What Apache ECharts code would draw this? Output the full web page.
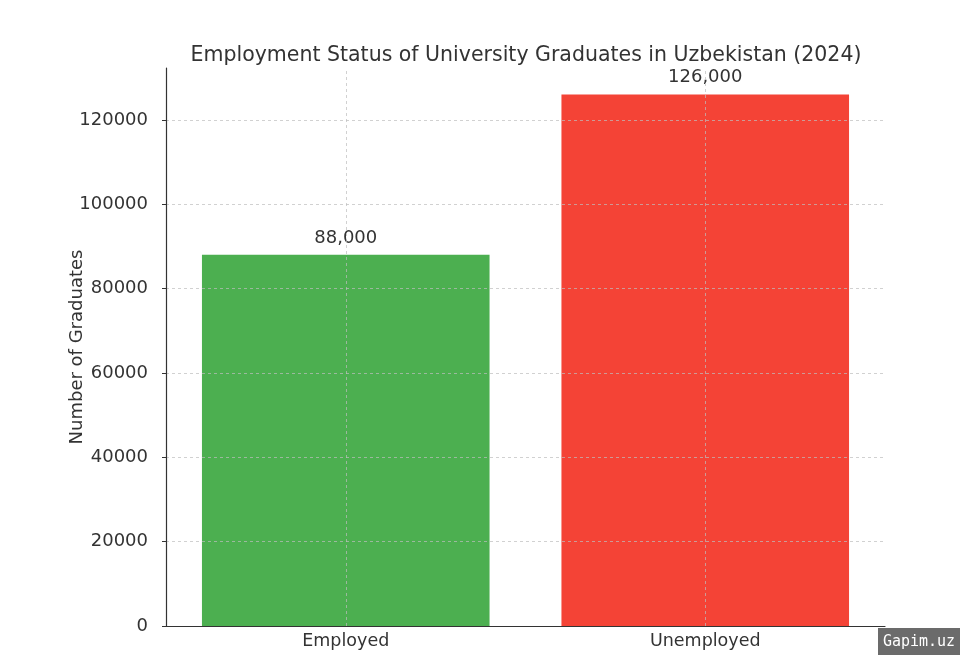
<!DOCTYPE html>
<html>
<head>
<meta charset="utf-8">
<script src="https://cdn.jsdelivr.net/npm/echarts@6/dist/echarts.min.js"></script>
<style>
  html, body { margin: 0; padding: 0; background: #fff; }
  #chart { width: 965px; height: 658px; }
</style>
</head>
<body>
<div id="chart"></div>
<script>
const categories = ['Employed', 'Unemployed']
const graduates = [88000, 126000]
const barColors = ['#4caf50', '#f44336']
const yTicks = [0, 20000, 40000, 60000, 80000, 100000, 120000]
const yMax = 132300

const font = 'DejaVu Sans'
const textColor = '#333'

const chart = echarts.init(document.getElementById('chart'))

chart.setOption({
  animation: false,
  title: {
    text: 'Employment Status of University Graduates in Uzbekistan (2024)',
    left: 521,
    textAlign: 'center',
    top: 40,
    textStyle: { fontFamily: font, fontSize: 20.5, fontWeight: 'normal', color: textColor }
  },
  grid: { left: 166, right: 80, top: 68, bottom: 32 },
  xAxis: {
    type: 'category',
    data: categories,
    z: 4,
    axisLine: { lineStyle: { color: '#333', width: 1.2 } },
    axisTick: { alignWithLabel: true, length: 4, lineStyle: { color: '#333' } },
    axisLabel: { fontFamily: font, fontSize: 17.5, color: textColor, margin: 6 },
    splitLine: { show: false }
  },
  yAxis: {
    type: 'value',
    min: 0,
    max: yMax,
    z: 3,
    name: 'Number of Graduates',
    nameLocation: 'middle',
    nameGap: 80,
    nameMoveOverlap: false,
    nameTextStyle: { fontFamily: font, fontSize: 18, color: textColor },
    axisLine: { show: true, lineStyle: { color: '#333', width: 1.2 } },
    axisTick: { show: true, length: 4, customValues: yTicks, lineStyle: { color: '#333' } },
    axisLabel: { fontFamily: font, fontSize: 18, color: textColor, margin: 18, customValues: yTicks, formatter: v => String(v) },
    splitLine: { show: true, lineStyle: { color: 'rgba(190,190,190,0.7)', type: [3, 3], width: 1 } }
  },
  series: [{
    type: 'bar',
    barWidth: '80%',
    data: graduates.map((v, i) => ({ value: v, itemStyle: { color: barColors[i] } })),
    label: {
      show: true,
      position: 'top',
      distance: 8,
      fontFamily: font,
      fontSize: 18,
      color: textColor,
      formatter: p => p.value.toLocaleString('en-US')
    },
    markLine: {
      silent: true,
      symbol: 'none',
      label: { show: false },
      lineStyle: { color: 'rgba(190,190,190,0.7)', type: [3, 3], width: 1 },
      data: categories.map(c => ({ xAxis: c }))
    }
  }],
  graphic: [{
    type: 'group',
    right: 5,
    bottom: 3,
    children: [
      { type: 'rect', shape: { x: 0, y: 0, width: 82, height: 27 }, style: { fill: '#6b6b6b' } },
      { type: 'text', x: 41, y: 14, style: { text: 'Gapim.uz', fill: '#fff', font: '15px "DejaVu Sans Mono"', textAlign: 'center', textVerticalAlign: 'middle' } }
    ]
  }]
})
</script>
</body>
</html>
